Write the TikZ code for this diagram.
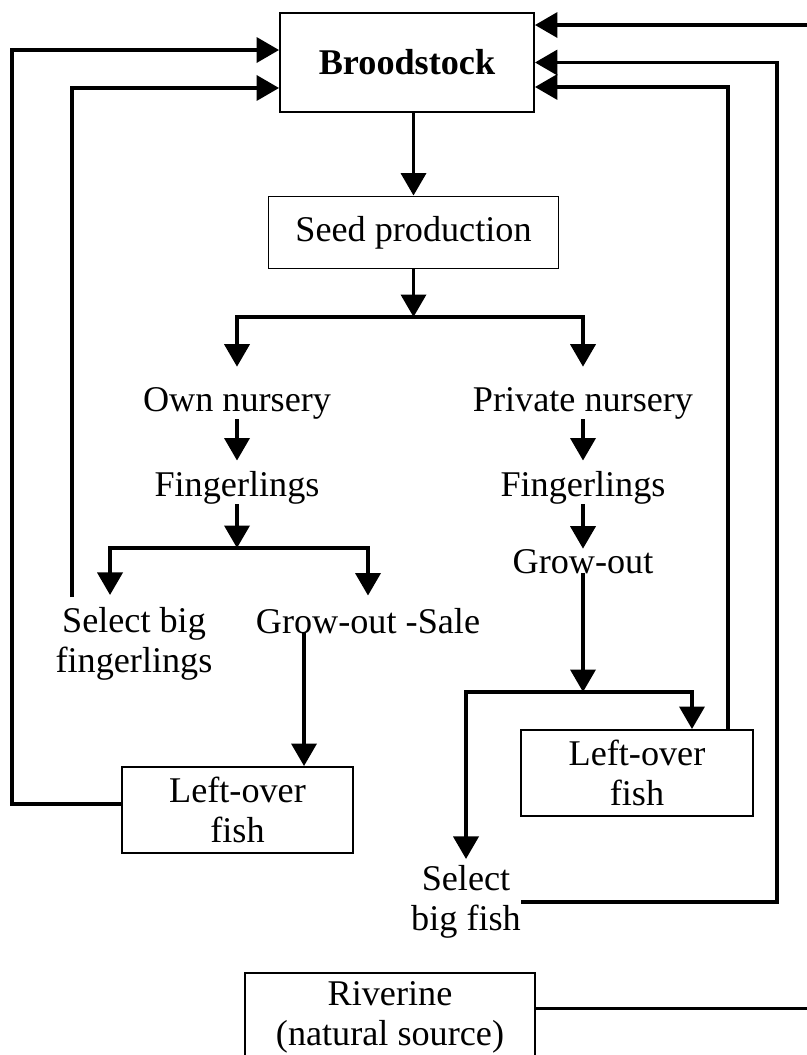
\documentclass[tikz,border=0pt]{standalone}
\usepackage{fontspec}
\setmainfont{Liberation Serif}
\usepackage{tikz}
\usetikzlibrary{arrows.meta}
\tikzstyle{stage} = [rectangle, draw=black, line width=1.1pt, inner sep=0pt, align=center, text centered]
\tikzstyle{flowtext} = [inner sep=0pt, align=center]
\tikzstyle{arrow} = [line width=2.1pt,-{Triangle[length=0.45cm,width=0.5cm]}]

\begin{document}
\begin{tikzpicture}[x=0.02cm, y=-0.02cm, font=\fontsize{20.6}{23}\selectfont]
    \useasboundingbox (0,0) rectangle (807,1055);
    \clip (0,0) rectangle (807,1055);
    \node(brood)[stage, minimum width=5.08cm, minimum height=1.98cm] at (407,62.5) {\textbf{Broodstock}};
    \node(seed)[stage, minimum width=5.8cm, minimum height=1.44cm] at (413.5,232.5) {Seed production};
    \node(own)[flowtext, anchor=base] at (237,411) {Own nursery};
    \node(fing1)[flowtext, anchor=base] at (237,496) {Fingerlings};
    \node(sel)[flowtext] at (134,644) {Select big\\fingerlings};
    \node(gos)[flowtext, anchor=base] at (368,633) {Grow-out -Sale};
    \node(lo1)[stage, minimum width=4.62cm, minimum height=1.72cm] at (237.5,810) {Left-over\\fish};
    \node(priv)[flowtext, anchor=base] at (583,411) {Private nursery};
    \node(fing2)[flowtext, anchor=base] at (583,496) {Fingerlings};
    \node(grow)[flowtext, anchor=base] at (583,573) {Grow-out};
    \node(lo2)[stage, minimum width=4.64cm, minimum height=1.72cm] at (637,773) {Left-over\\fish};
    \node(selfish)[flowtext] at (466,902) {Select\\big fish};
    \node(river)[stage, minimum width=5.8cm, minimum height=1.78cm] at (390,1017.5) {Riverine\\(natural source)};
    \coordinate(split1) at (seed.south |- 0,317);
    \coordinate(split2) at (fing1.south |- 0,548);
    \coordinate(split3) at (grow.base |- 0,692);
    \coordinate(golo) at ([xshift=-1.28cm]gos.base);
    \coordinate(selret) at (72,597);
    % main line down from the broodstock
    \draw[arrow](seed.north |- brood.south) -- (seed.north);
    \draw[arrow](seed.south) -- (split1);
    \draw[arrow, shorten >=0.4cm](split1) -| (own.north);
    \draw[arrow, shorten >=0.4cm](split1) -| (priv.north);
    % own nursery side
    \draw[arrow, shorten >=0.2cm](own) -- (fing1);
    \draw[arrow](fing1) -- (split2);
    \draw[arrow, shorten >=0.24cm](split2) -| ([xshift=-0.48cm]sel.north);
    \draw[arrow, shorten >=0.24cm](split2) -| (gos.north);
    \draw[arrow](golo) -- (golo |- lo1.north);
    \draw[arrow](selret) |- ([yshift=-0.51cm]brood.west);
    \draw[arrow]([yshift=0.12cm]lo1.west) -- ++(-109,0) |- ([yshift=0.25cm]brood.west);
    % private nursery side
    \draw[arrow, shorten >=0.2cm](priv) -- (fing2);
    \draw[arrow](fing2) -- (grow);
    \draw[arrow](grow.base) -- (split3);
    \draw[arrow](split3) -| ([xshift=1.1cm]lo2.north);
    \draw[arrow, shorten >=0.12cm](split3) -| (selfish.north);
    \draw[arrow]([xshift=1.82cm]lo2.north) |- ([yshift=-0.49cm]brood.east);
    \draw[arrow](selfish.east) -- (selfish.east -| 777,0) |- (brood.east);
    % natural source
    \draw[arrow]([yshift=0.18cm]river.east) -- ++(290,0) |- ([yshift=0.75cm]brood.east);
\end{tikzpicture}
\end{document}
